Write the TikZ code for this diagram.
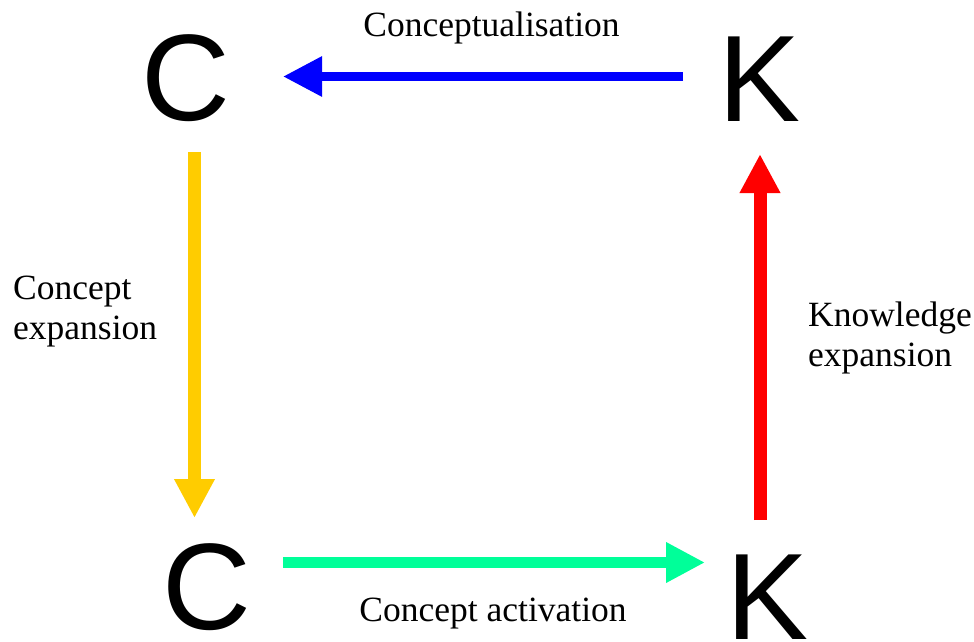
\documentclass[tikz,border=0pt]{standalone}
\usepackage{fontspec}
\setmainfont{Liberation Serif}
\newfontfamily\lettersans{Liberation Sans}
\usetikzlibrary{arrows.meta}

\definecolor{cyclered}{RGB}{255,0,0}
\definecolor{cycleblue}{RGB}{0,0,255}
\definecolor{cycleyellow}{RGB}{255,204,0}
\definecolor{cyclegreen}{RGB}{0,255,153}

\tikzset{
  letter/.style={inner sep=0pt, font=\lettersans\fontsize{123}{123}\selectfont},
  caption/.style={inner sep=0pt, font=\fontsize{35.5}{40}\selectfont},
  fatarrow/.style={line cap=butt, -{Triangle[length=39pt,width=38pt]}},
}

\begin{document}
\begin{tikzpicture}[x=1pt, y=-1pt]
  \useasboundingbox (0,0) rectangle (974,642);

  % the four corners of the cycle
  \node[letter] (ct) at (185.5,78)   {C};
  \node[letter] (kt) at (759.5,79.5) {K};
  \node[letter] (cb) at (207,587.5)  {C};
  \node[letter] (kb) at (767.5,597.5) {K};

  % connectors
  \draw[fatarrow, cycleblue, line width=9pt]
    ([shift={(-76.5,-3)}]kt.center) -- ([shift={(97.5,-1.5)}]ct.center);
  \draw[fatarrow, cycleyellow, line width=13pt]
    ([shift={(9,74)}]ct.center) -- ([shift={(-12.5,-69.5)}]cb.center);
  \draw[fatarrow, cyclegreen, line width=11pt]
    ([shift={(76,-25)}]cb.center) -- ([shift={(-62.5,-35)}]kb.center);
  \draw[fatarrow, cyclered, line width=13pt]
    ([shift={(-7.5,-77.5)}]kb.center) -- ([shift={(0.5,74.5)}]kt.center);

  % captions (two-line captions are anchored on their last baseline)
  \node[caption, anchor=base] (lconc) at (491.5,37) {Conceptualisation};
  \node[caption, anchor=base] (lact) at (493,621) {Concept activation};
  \node[caption, anchor=base west, align=left] (lcexp) at (13,339) {Concept\\expansion};
  \node[caption, anchor=base west, align=left] (lkexp) at (808,366) {Knowledge\\expansion};
\end{tikzpicture}
\end{document}
